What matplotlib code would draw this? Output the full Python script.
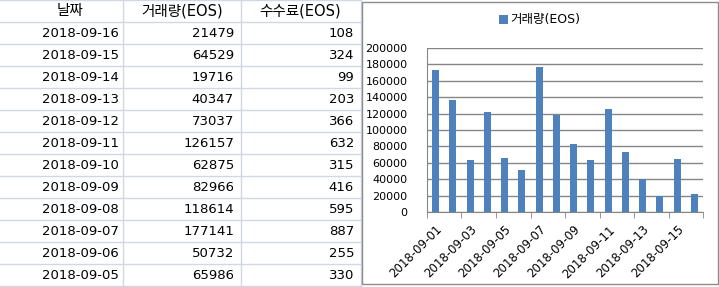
import matplotlib
matplotlib.use("Agg")
import matplotlib.pyplot as plt
from matplotlib.patches import Rectangle

plt.rcParams['font.family'] = ['DejaVu Sans', 'Noto Sans CJK KR']

# data
dates = ['2018-09-01', '2018-09-02', '2018-09-03', '2018-09-04', '2018-09-05', '2018-09-06',
         '2018-09-07', '2018-09-08', '2018-09-09', '2018-09-10', '2018-09-11', '2018-09-12',
         '2018-09-13', '2018-09-14', '2018-09-15', '2018-09-16']
volume = [173000, 136500, 63500, 122000, 65986, 50732, 177141, 118614, 82966, 62875, 126157,
          73037, 40347, 19716, 64529, 21479]
# fee column only shown for 09-05 .. 09-16
fee = [330, 255, 887, 595, 416, 315, 632, 366, 203, 99, 324, 108]
headers = ['날짜', '거래량(EOS)', '수수료(EOS)']

W, H = 719, 287
fig = plt.figure(figsize=(W / 100, H / 100), dpi=100)

def fx(x):
    return x / W

def fy(y):
    return 1 - y / H

# table grid (excel like)
grid_c = '#d0d7e5'
row_h = 22
col_x = [0, 123, 241, 361]
for i in range(14):
    y = i * row_h
    fig.add_artist(plt.Line2D([0, fx(361)], [fy(y), fy(y)], color=grid_c, lw=1, zorder=-2))
for x in col_x[1:]:
    fig.add_artist(plt.Line2D([fx(x), fx(x)], [0, 1], color=grid_c, lw=1, zorder=-2))

header_cx = [70, 182, 300]
for h, cx in zip(headers, header_cx):
    fig.text(fx(cx), fy(11), h, ha='center', va='center', fontsize=10.5)

rows = list(zip(dates[4:], volume[4:], fee))[::-1]
for i, (d, v, f) in enumerate(rows):
    yc = fy(row_h * (i + 1) + 11.5)
    fig.text(fx(119), yc, d, ha='right', va='center', fontsize=9.5)
    fig.text(fx(234), yc, str(v), ha='right', va='center', fontsize=9.5)
    fig.text(fx(354), yc, str(f), ha='right', va='center', fontsize=9.5)

# chart frame
fig.add_artist(Rectangle((fx(362), fy(284)), fx(718 - 362), (284 - 2) / H,
                         facecolor='white', edgecolor='#8c8c8c', lw=1, zorder=-1))

ax = fig.add_axes([fx(427), fy(212), fx(703 - 427), (212 - 48) / H])
ax.set_facecolor('none')
xs = list(range(len(dates)))
bars = ax.bar(xs, volume, width=0.4, color='#4f81bd', label='거래량(EOS)', zorder=3)
ax.set_xlim(-0.5, len(dates) - 0.5)
ax.set_ylim(0, 200000)
ax.set_yticks(range(0, 200001, 20000))
ax.tick_params(axis='y', length=0, labelsize=8, pad=14)
ax.yaxis.grid(True, color='#868686', lw=1, zorder=0)
ax.set_xticks(xs[::2])
ax.set_xticklabels(dates[::2], rotation=45, ha='right', rotation_mode='anchor', fontsize=8.5)
ax.set_xticks([x - 0.5 for x in range(len(dates) + 1)][::2], minor=True)
ax.tick_params(axis='x', which='major', length=0, pad=8)
ax.tick_params(axis='x', which='minor', length=4, color='#868686', direction='out')
for s in ['top', 'right']:
    ax.spines[s].set_visible(False)
ax.spines['left'].set_color('#868686')
ax.spines['bottom'].set_color('#868686')

fig.legend(handles=[bars], loc='center', bbox_to_anchor=(fx(540), fy(20)), frameon=False,
           fontsize=9, handlelength=0.7, handleheight=0.7, handletextpad=0.2)

fig.savefig('out.png', dpi=100)
